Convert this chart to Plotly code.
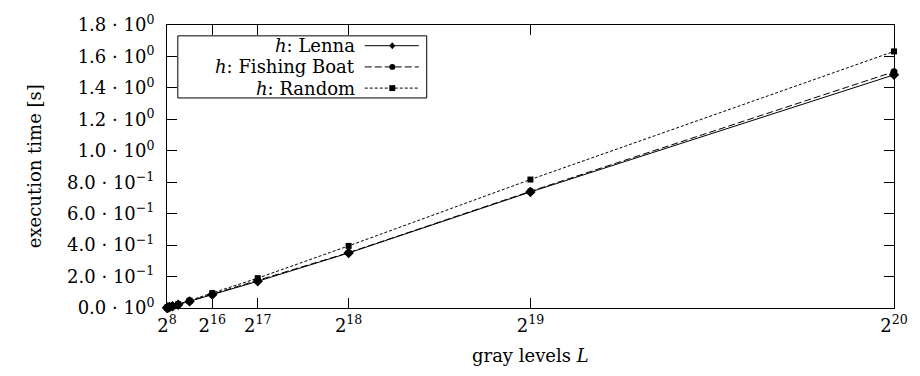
import plotly.graph_objects as go

exponents = list(range(8, 21))
gray_levels = [2 ** e for e in exponents]
lenna = [0.001, 0.0015, 0.002, 0.003, 0.006, 0.011, 0.021, 0.042, 0.085, 0.170, 0.350, 0.738, 1.483]
fishing_boat = [0.001, 0.0015, 0.002, 0.003, 0.006, 0.011, 0.022, 0.044, 0.088, 0.175, 0.352, 0.742, 1.503]
random_img = [0.001, 0.0016, 0.0025, 0.004, 0.007, 0.012, 0.024, 0.047, 0.095, 0.190, 0.395, 0.817, 1.632]

x_tick_exps = [8, 16, 17, 18, 19, 20]
y_tick_vals = [0.0, 0.2, 0.4, 0.6, 0.8, 1.0, 1.2, 1.4, 1.6, 1.8]
y_tick_text = ["0.0 · 10<sup>0</sup>", "2.0 · 10<sup>−1</sup>", "4.0 · 10<sup>−1</sup>",
               "6.0 · 10<sup>−1</sup>", "8.0 · 10<sup>−1</sup>", "1.0 · 10<sup>0</sup>",
               "1.2 · 10<sup>0</sup>", "1.4 · 10<sup>0</sup>", "1.6 · 10<sup>0</sup>",
               "1.8 · 10<sup>0</sup>"]

series = [
    ("<i>h</i>: Lenna", lenna, "solid", "diamond", 8),
    ("<i>h</i>: Fishing Boat", fishing_boat, "7px,3px", "circle", 7),
    ("<i>h</i>: Random", random_img, "3px,2px", "square", 6),
]

FONT = "DejaVu Serif"
FS = 18

W, H = 920, 376
ml, mr, mt, mb = 167, 14, 21, 68
pw, ph = W - ml - mr, H - mt - mb

def px(x):
    return (x - ml) / pw

def py(y):
    return 1 - (y - mt) / ph

fig = go.Figure()
for name, vals, dash, sym, size in series:
    fig.add_trace(go.Scatter(
        x=gray_levels, y=vals, mode="lines+markers", name=name,
        line=dict(color="black", width=1, dash=dash),
        marker=dict(color="black", symbol=sym, size=size),
        showlegend=False, cliponaxis=False,
    ))

lx0, lx1, ly0, ly1 = 178, 431, 32, 95
fig.add_shape(type="rect", xref="paper", yref="paper",
              x0=px(lx0), x1=px(lx1), y0=py(ly1), y1=py(ly0),
              line=dict(color="black", width=1), fillcolor="white", layer="above")
rows = [42, 63.5, 85]
for (name, vals, dash, sym, size), yy in zip(series, rows):
    fig.add_annotation(xref="paper", yref="paper", x=px(359), y=py(yy),
                       text=name, showarrow=False, xanchor="right", yanchor="middle",
                       borderpad=0,
                       font=dict(family=FONT, size=FS, color="black"))
    fig.add_shape(type="line", xref="paper", yref="paper",
                  x0=px(368), x1=px(423), y0=py(yy), y1=py(yy),
                  line=dict(color="black", width=1, dash=dash), layer="above")
    cx, cy, r = 396, yy, 3
    if sym == "square":
        fig.add_shape(type="rect", xref="paper", yref="paper",
                      x0=px(cx - r), x1=px(cx + r), y0=py(cy + r), y1=py(cy - r),
                      fillcolor="black", line=dict(width=0), layer="above")
    elif sym == "circle":
        fig.add_shape(type="circle", xref="paper", yref="paper",
                      x0=px(cx - r), x1=px(cx + r), y0=py(cy + r), y1=py(cy - r),
                      fillcolor="black", line=dict(width=0), layer="above")
    else:
        path = (f"M {px(cx)} {py(cy - r - 0.5)} L {px(cx + r)} {py(cy)} "
                f"L {px(cx)} {py(cy + r + 0.5)} L {px(cx - r)} {py(cy)} Z")
        fig.add_shape(type="path", xref="paper", yref="paper", path=path,
                      fillcolor="black", line=dict(width=0), layer="above")

fig.add_annotation(xref="paper", yref="paper", x=px(536), y=py(356),
                   text="gray levels <i>L</i>", showarrow=False,
                   xanchor="center", yanchor="middle",
                   font=dict(family=FONT, size=FS, color="black"))
fig.add_annotation(xref="paper", yref="paper", x=px(32), y=py(164),
                   text="execution time [s]", showarrow=False, textangle=-90,
                   xanchor="center", yanchor="middle",
                   font=dict(family=FONT, size=FS, color="black"))

fig.update_layout(
    width=W, height=H,
    margin=dict(l=ml, r=mr, t=mt, b=mb),
    plot_bgcolor="white", paper_bgcolor="white",
    font=dict(family=FONT, size=FS, color="black"),
    xaxis=dict(
        range=[2 ** 8, 2 ** 20],
        tickvals=[2 ** e for e in x_tick_exps],
        ticktext=[f"2<sup>{e}</sup>" for e in x_tick_exps],
        ticks="inside", ticklen=10, tickcolor="black", tickwidth=1,
        showline=True, linecolor="black", linewidth=1, mirror="ticks",
        showgrid=False, zeroline=False,
        tickfont=dict(family=FONT, size=18),
        ticklabelstandoff=1,
    ),
    yaxis=dict(
        range=[0, 1.8],
        tickvals=y_tick_vals, ticktext=y_tick_text,
        ticks="inside", ticklen=10, tickcolor="black", tickwidth=1,
        showline=True, linecolor="black", linewidth=1, mirror="ticks",
        showgrid=False, zeroline=False,
        tickfont=dict(family=FONT, size=FS),
        ticklabelstandoff=8,
    ),
)

fig.write_html("out.html")
